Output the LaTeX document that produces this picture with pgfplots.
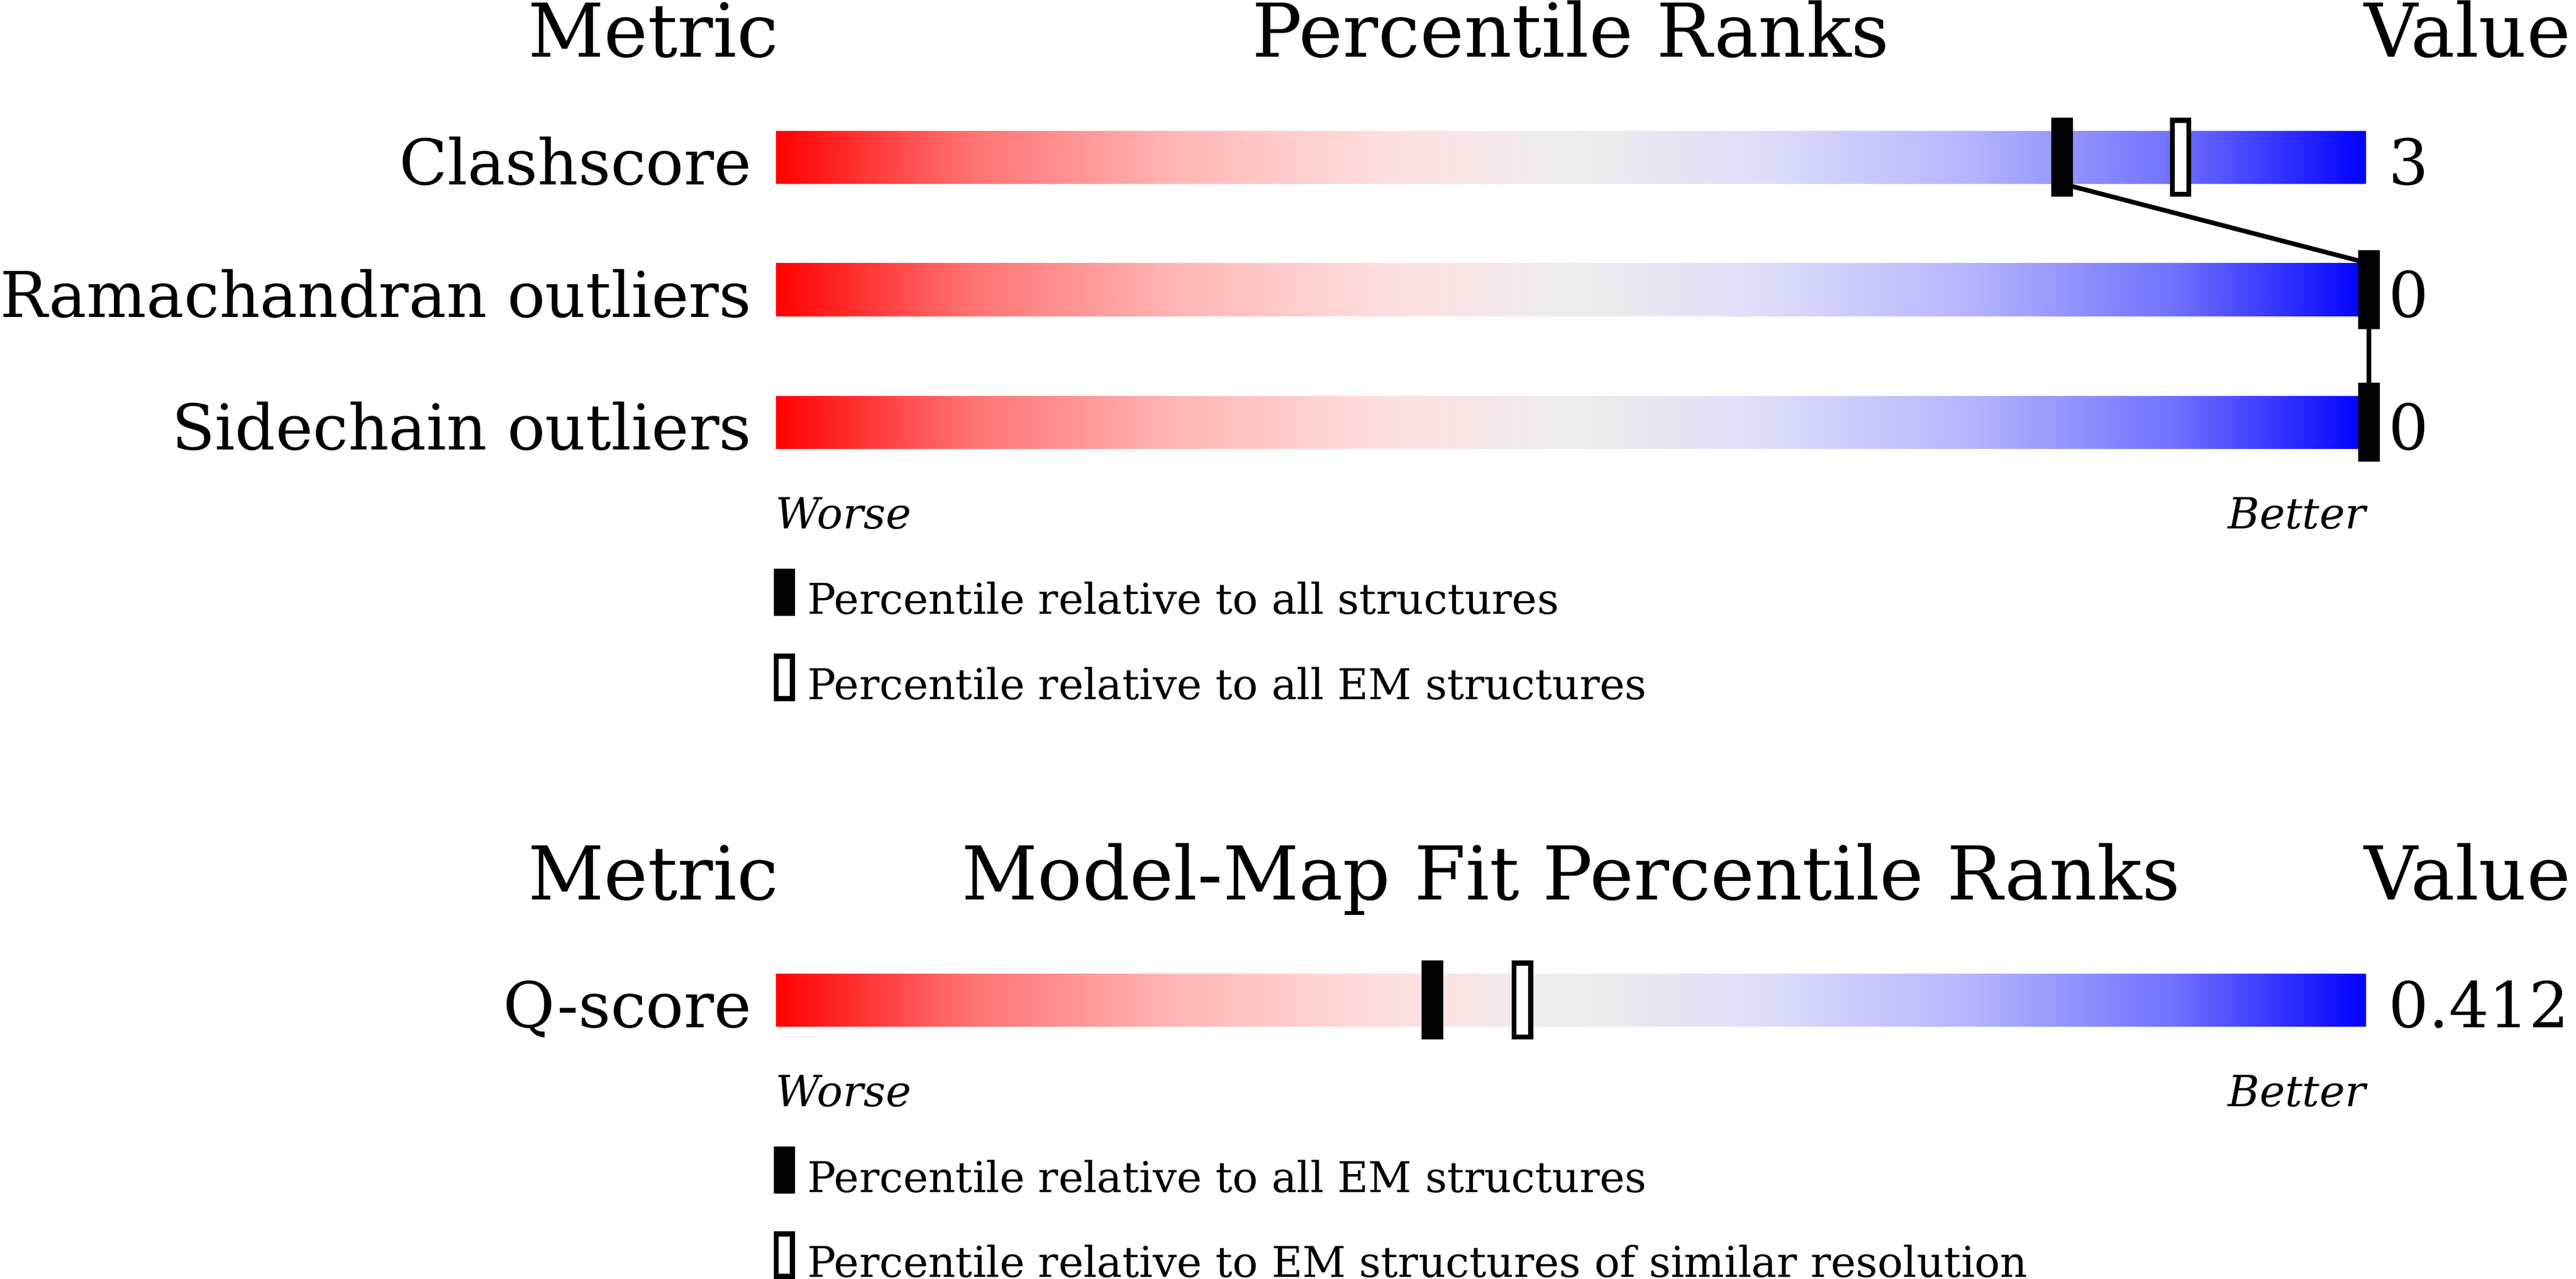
\documentclass[border=0pt]{standalone}
\usepackage{fontspec}
\setmainfont{DejaVu Serif}
\usepackage{pgfplots}
\pgfplotsset{compat=1.18}
\tikzset{t/.style={inner sep=0pt, outer sep=0pt}}
% visible part of a TikZ shading runs from 25bp to 75bp
\pgfdeclarehorizontalshading{slider}{100bp}{rgb(0bp)=(1,0,0); rgb(25bp)=(1,0,0); rgb(31bp)=(1,0.44,0.44); rgb(37.5bp)=(1,0.71,0.71); rgb(44bp)=(1,0.87,0.87); rgb(50bp)=(0.93,0.93,0.93); rgb(56bp)=(0.87,0.87,0.98); rgb(62.5bp)=(0.71,0.71,1); rgb(69bp)=(0.44,0.44,1); rgb(75bp)=(0,0,1); rgb(100bp)=(0,0,1)}
% markers (1 px of the reference layout = 0.5pt)
\pgfdeclareplotmark{fbar}{\pgfpathrectangle{\pgfpoint{-3.3pt}{-12pt}}{\pgfpoint{6.6pt}{24pt}}\pgfusepathqfill}
\pgfdeclareplotmark{obar}{\pgfpathrectangle{\pgfpoint{-2.525pt}{-11.225pt}}{\pgfpoint{5.05pt}{22.45pt}}\pgfusepathqfillstroke}
\pgfdeclareplotmark{lfbar}{\pgfpathrectangle{\pgfpoint{-3.2pt}{-7.2pt}}{\pgfpoint{6.4pt}{14.4pt}}\pgfusepathqfill}
\pgfdeclareplotmark{lobar}{\pgfpathrectangle{\pgfpoint{-2.45pt}{-6.45pt}}{\pgfpoint{4.9pt}{12.9pt}}\pgfusepathqfillstroke}
\newcommand\Tt{\fontsize{22.6pt}{27pt}\selectfont}
\newcommand\Lb{\fontsize{19.2pt}{23pt}\selectfont}
\newcommand\Sm{\fontsize{12.9pt}{16pt}\selectfont}
\newcommand\Wb{\fontsize{13.1pt}{16pt}\selectfont\itshape}
\begin{document}
\begin{tikzpicture}
\begin{axis}[scale only axis, width=784pt, height=389.1pt,
  xmin=0, xmax=1568, ymin=0, ymax=778.2, y dir=reverse,
  hide axis, clip=false,
  pct/.style={x filter/.expression={478.9+9.63*x}}]
% slider bars
\addplot[draw=none, shading=slider] coordinates {(472.3,79.7) (1440,79.7) (1440,111.8) (472.3,111.8)} -- cycle;
\addplot[draw=none, shading=slider] coordinates {(472.3,160.3) (1440,160.3) (1440,192.4) (472.3,192.4)} -- cycle;
\addplot[draw=none, shading=slider] coordinates {(472.3,241) (1440,241) (1440,273.1) (472.3,273.1)} -- cycle;
\addplot[draw=none, shading=slider] coordinates {(472.3,592.7) (1440,592.7) (1440,624.8) (472.3,624.8)} -- cycle;
% connecting line of the percentiles relative to all structures
\addplot[pct, black, line width=1.4pt, mark=none] coordinates {(80.6,111.8) (100,160.3) (100,241)};
% percentile markers
\addplot[pct, only marks, mark=fbar, black, mark options={fill=black, draw=none}] coordinates {(80.6,95.75) (100,176.35) (100,257.05) (40.8,608.75)};
\addplot[pct, only marks, mark=obar, black, mark options={fill=white, draw=black, line width=1.55pt}] coordinates {(88.1,95.75) (46.5,608.75)};
% legend symbols
\addplot[only marks, mark=lfbar, black, mark options={fill=black, draw=none}] coordinates {(477.4,360.5) (477.4,712.2)};
\addplot[only marks, mark=lobar, black, mark options={fill=white, draw=black, line width=1.5pt}] coordinates {(477.4,412.3) (477.4,764)};
% titles
\node[t, anchor=base east, font=\Tt] at (axis cs:474,34.6) {Metric};
\node[t, anchor=base, font=\Tt] at (axis cs:956.2,34.6) {Percentile Ranks};
\node[t, anchor=base west, font=\Tt] at (axis cs:1439,34.6) {Value};
\node[t, anchor=base east, font=\Tt] at (axis cs:474,547.6) {Metric};
\node[t, anchor=base, font=\Tt] at (axis cs:956.2,547.6) {Model-Map Fit Percentile Ranks};
\node[t, anchor=base west, font=\Tt] at (axis cs:1439,547.6) {Value};
% metric labels
\node[t, anchor=base east, font=\Lb] at (axis cs:457.5,112.4) {Clashscore};
\node[t, anchor=base east, font=\Lb] at (axis cs:457.5,193.0) {Ramachandran outliers};
\node[t, anchor=base east, font=\Lb] at (axis cs:457.5,273.7) {Sidechain outliers};
\node[t, anchor=base east, font=\Lb] at (axis cs:457.5,625.4) {Q-score};
% values
\node[t, anchor=base west, font=\Lb] at (axis cs:1454,112.4) {3};
\node[t, anchor=base west, font=\Lb] at (axis cs:1454,193.0) {0};
\node[t, anchor=base west, font=\Lb] at (axis cs:1454,273.7) {0};
\node[t, anchor=base west, font=\Lb] at (axis cs:1454,625.4) {0.412};
% worse / better
\node[t, anchor=base west, font=\Wb] at (axis cs:472.3,321.7) {Worse};
\node[t, anchor=base east, font=\Wb] at (axis cs:1440,321.7) {Better};
\node[t, anchor=base west, font=\Wb] at (axis cs:472.3,673.4) {Worse};
\node[t, anchor=base east, font=\Wb] at (axis cs:1440,673.4) {Better};
% legends
\node[t, anchor=base west, font=\Sm] at (axis cs:491.5,373.9) {Percentile relative to all structures};
\node[t, anchor=base west, font=\Sm] at (axis cs:491.5,425.7) {Percentile relative to all EM structures};
\node[t, anchor=base west, font=\Sm] at (axis cs:491.5,725.6) {Percentile relative to all EM structures};
\node[t, anchor=base west, font=\Sm] at (axis cs:491.5,777.4) {Percentile relative to EM structures of similar resolution};
\end{axis}
\pgfresetboundingbox
\useasboundingbox (current axis.south west) rectangle (current axis.north east);
\end{tikzpicture}
\end{document}
